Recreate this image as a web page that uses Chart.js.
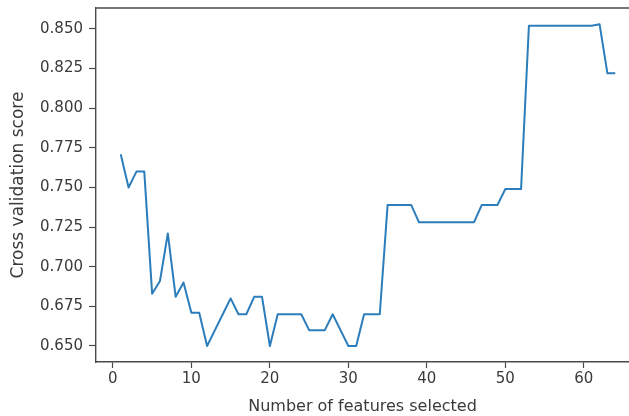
<!DOCTYPE html>
<html>
<head>
<meta charset="utf-8">
<script src="https://cdn.jsdelivr.net/npm/chart.js@4"></script>
<style>
  html, body { margin: 0; padding: 0; background: #fff; overflow: hidden; }
  canvas { display: block; }
</style>
</head>
<body>
<canvas id="chart" width="629" height="416"></canvas>
<script>
const features = [
  1, 2, 3, 4, 5, 6, 7, 8, 9, 10, 11, 12, 13, 14, 15, 16,
  17, 18, 19, 20, 21, 22, 23, 24, 25, 26, 27, 28, 29, 30, 31, 32,
  33, 34, 35, 36, 37, 38, 39, 40, 41, 42, 43, 44, 45, 46, 47, 48,
  49, 50, 51, 52, 53, 54, 55, 56, 57, 58, 59, 60, 61, 62, 63, 64
];
const scores = [
  0.771, 0.750, 0.760, 0.760, 0.683, 0.691, 0.721, 0.681, 0.690, 0.671, 0.671, 0.650, 0.660, 0.670, 0.680, 0.670,
  0.670, 0.681, 0.681, 0.650, 0.670, 0.670, 0.670, 0.670, 0.660, 0.660, 0.660, 0.670, 0.660, 0.650, 0.650, 0.670,
  0.670, 0.670, 0.739, 0.739, 0.739, 0.739, 0.728, 0.728, 0.728, 0.728, 0.728, 0.728, 0.728, 0.728, 0.739, 0.739,
  0.739, 0.749, 0.749, 0.749, 0.852, 0.852, 0.852, 0.852, 0.852, 0.852, 0.852, 0.852, 0.852, 0.853, 0.822, 0.822
];
const xTicks = [0, 10, 20, 30, 40, 50, 60];
const yTicks = [0.650, 0.675, 0.700, 0.725, 0.750, 0.775, 0.800, 0.825, 0.850];

const TEXT = "#3a3a3a";
const SPINE = "#4a4a4a";
const FONT = "'DejaVu Sans', sans-serif";

// top spine (matplotlib box); the right one falls outside the crop
const topSpine = {
  id: "topSpine",
  afterDraw(chart) {
    const { ctx, chartArea } = chart;
    ctx.save();
    ctx.strokeStyle = SPINE;
    ctx.lineWidth = 1.4;
    ctx.beginPath();
    ctx.moveTo(chartArea.left, chartArea.top);
    ctx.lineTo(chart.width, chartArea.top);
    ctx.stroke();
    ctx.restore();
  }
};

new Chart(document.getElementById("chart"), {
  type: "line",
  data: {
    datasets: [{
      data: features.map((f, i) => ({ x: f, y: scores[i] })),
      borderColor: "#2c7dbb",
      borderWidth: 2,
      pointRadius: 0,
      tension: 0,
      borderJoinStyle: "round",
      fill: false
    }]
  },
  options: {
    responsive: false,
    animation: false,
    devicePixelRatio: 1,
    layout: { padding: { top: 8, right: 0, left: 0, bottom: 0 } },
    plugins: {
      legend: { display: false },
      tooltip: { enabled: false }
    },
    scales: {
      x: {
        type: "linear",
        min: -2.15,
        max: 65.75,
        afterBuildTicks: (s) => { s.ticks = xTicks.map(v => ({ value: v })); },
        afterFit: (s) => { s.height = 54; s.paddingLeft = 0; s.paddingRight = 0; },
        grid: { drawOnChartArea: false, drawTicks: true, tickLength: 6, tickWidth: 1.2, tickColor: SPINE },
        border: { display: true, color: SPINE, width: 1.4 },
        ticks: { color: TEXT, font: { family: FONT, size: 15 }, padding: 2, maxRotation: 0 },
        title: {
          display: true,
          text: "Number of features selected",
          color: TEXT,
          font: { family: FONT, size: 16 },
          padding: { top: 0, bottom: 0 }
        }
      },
      y: {
        min: 0.6399,
        max: 0.8632,
        afterBuildTicks: (s) => { s.ticks = yTicks.map(v => ({ value: v })); },
        afterFit: (s) => { s.width = 96; s.paddingTop = 0; s.paddingBottom = 0; },
        grid: { drawOnChartArea: false, drawTicks: true, tickLength: 7, tickWidth: 1.2, tickColor: SPINE },
        border: { display: true, color: SPINE, width: 1.4 },
        ticks: {
          color: TEXT,
          font: { family: FONT, size: 15 },
          padding: 6,
          callback: (v) => v.toFixed(3)
        },
        title: {
          display: true,
          text: "Cross validation score",
          color: TEXT,
          font: { family: FONT, size: 17 },
          padding: { top: 8, bottom: 0 }
        }
      }
    }
  },
  plugins: [topSpine]
});
</script>
</body>
</html>
